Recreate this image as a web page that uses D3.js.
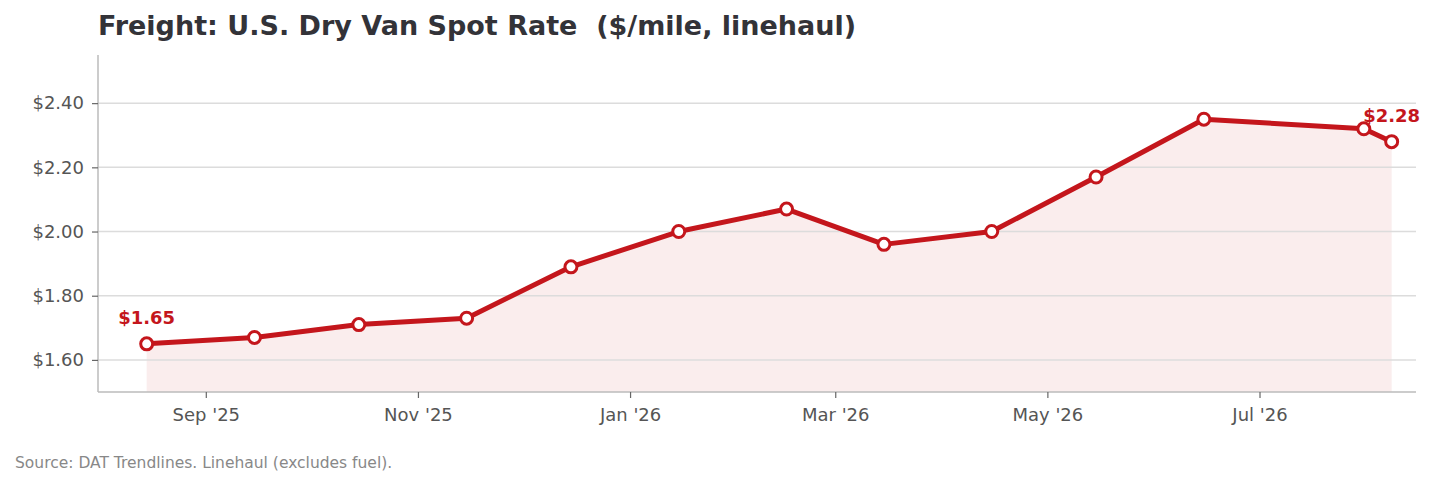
<!DOCTYPE html>
<html>
<head>
<meta charset="utf-8">
<script src="https://cdn.jsdelivr.net/npm/d3@7"></script>
<style>
  body { margin: 0; background: #fff; }
  text { font-family: "DejaVu Sans", sans-serif; }
</style>
</head>
<body>
<div id="chart"></div>
<script>
// Data
const dates  = ["2025-08-15", "2025-09-15", "2025-10-15", "2025-11-15", "2025-12-15",
                "2026-01-15", "2026-02-15", "2026-03-15", "2026-04-15", "2026-05-15",
                "2026-06-15", "2026-07-31", "2026-08-08"];
const rates  = [1.65, 1.67, 1.71, 1.73, 1.89, 2.00, 2.07, 1.96, 2.00, 2.17, 2.35, 2.32, 2.28];
const yTicks = [1.60, 1.80, 2.00, 2.20, 2.40];
const xTicks = ["2025-09-01", "2025-11-01", "2026-01-01", "2026-03-01", "2026-05-01", "2026-07-01"];

const W = 1436, H = 485;
const margin = { top: 55, right: 20, bottom: 93, left: 98 };
const width  = W - margin.left - margin.right;
const height = H - margin.top - margin.bottom;

const parse = d3.utcParse("%Y-%m-%d");
const data = dates.map((d, i) => ({ date: parse(d), v: rates[i] }));

const red = "#c4161c";

const svg = d3.select("#chart").append("svg")
  .attr("width", W)
  .attr("height", H);

const g = svg.append("g")
  .attr("transform", `translate(${margin.left},${margin.top})`);

// Scales
const x = d3.scaleUtc()
  .domain([parse("2025-08-01"), parse("2026-08-15")])
  .range([0, width]);

const y = d3.scaleLinear()
  .domain([1.50, 2.55])
  .range([height, 0]);

// Area fill under the line
const area = d3.area()
  .x(d => x(d.date))
  .y0(height)
  .y1(d => y(d.v));

g.append("path")
  .datum(data)
  .attr("fill", red)
  .attr("fill-opacity", 0.08)
  .attr("d", area);

// Gridlines
g.append("g")
  .selectAll("line")
  .data(yTicks)
  .enter()
  .append("line")
  .attr("x1", 0)
  .attr("x2", width)
  .attr("y1", d => y(d))
  .attr("y2", d => y(d))
  .attr("stroke", "#dcdcdc")
  .attr("stroke-width", 1.5);

// Axes
const yAxis = d3.axisLeft(y)
  .tickValues(yTicks)
  .tickSize(6)
  .tickPadding(8)
  .tickFormat(d => "$" + d.toFixed(2));

const xAxis = d3.axisBottom(x)
  .tickValues(xTicks.map(parse))
  .tickSize(6)
  .tickPadding(10)
  .tickFormat(d3.utcFormat("%b '%y"));

const ya = g.append("g").call(yAxis);
const xa = g.append("g").attr("transform", `translate(0,${height})`).call(xAxis);

[ya, xa].forEach(a => {
  a.select(".domain").attr("stroke", "#bbbbbb").attr("stroke-width", 1.5);
  a.selectAll(".tick line").attr("stroke", "#666").attr("stroke-width", 1.2);
  a.selectAll(".tick text")
    .attr("fill", "#555")
    .style("font-size", "18px")
    .style("font-family", "'DejaVu Sans', sans-serif");
});
// keep only left + bottom spines
ya.select(".domain").attr("d", `M0,${height}V0`);
xa.select(".domain").attr("d", `M0,0H${width}`);

// Line
const line = d3.line()
  .x(d => x(d.date))
  .y(d => y(d.v));

g.append("path")
  .datum(data)
  .attr("fill", "none")
  .attr("stroke", red)
  .attr("stroke-width", 5)
  .attr("stroke-linejoin", "round")
  .attr("d", line);

// Markers
g.selectAll(".dot")
  .data(data)
  .enter()
  .append("circle")
  .attr("class", "dot")
  .attr("cx", d => x(d.date))
  .attr("cy", d => y(d.v))
  .attr("r", 6)
  .attr("fill", "#fff")
  .attr("stroke", red)
  .attr("stroke-width", 3);

// First / last value labels
[data[0], data[data.length - 1]].forEach(d => {
  g.append("text")
    .attr("x", x(d.date))
    .attr("y", y(d.v) - 20)
    .attr("text-anchor", "middle")
    .attr("fill", red)
    .style("font-size", "18px")
    .style("font-weight", "bold")
    .text("$" + d.v.toFixed(2));
});

// Title
svg.append("text")
  .attr("x", margin.left)
  .attr("y", 35)
  .attr("fill", "#333338")
  .style("font-size", "27px")
  .style("font-weight", "bold")
  .style("white-space", "pre")
  .attr("xml:space", "preserve")
  .text("Freight: U.S. Dry Van Spot Rate  ($/mile, linehaul)");

// Source
svg.append("text")
  .attr("x", 15)
  .attr("y", 468)
  .attr("fill", "#888")
  .style("font-size", "15.5px")
  .text("Source: DAT Trendlines. Linehaul (excludes fuel).");
</script>
</body>
</html>
